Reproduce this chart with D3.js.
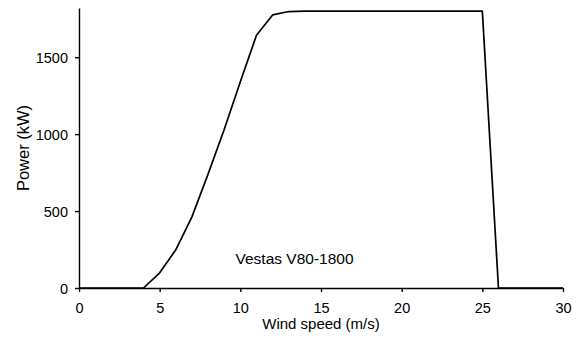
<!DOCTYPE html>
<html>
<head>
<meta charset="utf-8">
<script src="https://cdn.jsdelivr.net/npm/d3@7"></script>
<style>
  body { margin: 0; background: #fff; }
  svg text { font-family: "Liberation Sans", Arial, sans-serif; fill: #000; }
  .axis path, .axis line { stroke: #000; stroke-width: 1.4; }
</style>
</head>
<body>
<div id="chart"></div>
<script>
// wind speed (m/s) and power output (kW) of the turbine
const windSpeed = [0, 1, 2, 3, 4, 5, 6, 7, 8, 9, 10, 11, 12, 13, 14, 15, 16, 17, 18, 19, 20, 21, 22, 23, 24, 25, 26, 27, 28, 29, 30];
const power = [0, 0, 0, 0, 0, 99, 248, 462, 740, 1030, 1340, 1643, 1775, 1797, 1800, 1800, 1800, 1800, 1800, 1800, 1800, 1800, 1800, 1800, 1800, 1800, 0, 0, 0, 0, 0];
const xTicks = [0, 5, 10, 15, 20, 25, 30];
const yTicks = [0, 500, 1000, 1500];
const label = "Vestas V80-1800";

const W = 579, H = 340;
const margin = { top: 8, right: 16, bottom: 52, left: 79 };

const svg = d3.select("#chart")
  .append("svg")
  .attr("width", W)
  .attr("height", H);

const x = d3.scaleLinear()
  .domain([0, 30])
  .range([margin.left, W - margin.right]);

const y = d3.scaleLinear()
  .domain([0, 1820])
  .range([H - margin.bottom, margin.top]);

const xAxis = svg.append("g")
  .attr("class", "axis")
  .attr("transform", "translate(0," + y(0) + ")")
  .call(d3.axisBottom(x).tickValues(xTicks).tickFormat(d3.format("d"))
    .tickSize(4).tickSizeOuter(0).tickPadding(11));
xAxis.selectAll("text").style("font-size", "14.5px");

const yAxis = svg.append("g")
  .attr("class", "axis")
  .attr("transform", "translate(" + x(0) + ",0)")
  .call(d3.axisLeft(y).tickValues(yTicks).tickFormat(d3.format("d"))
    .tickSize(4).tickSizeOuter(0).tickPadding(7));
yAxis.selectAll("text").style("font-size", "14.5px").attr("dy", "0.36em");

const line = d3.line()
  .x((d, i) => x(windSpeed[i]))
  .y(d => y(d));

svg.append("path")
  .datum(power)
  .attr("fill", "none")
  .attr("stroke", "#000")
  .attr("stroke-width", 1.7)
  .attr("stroke-linejoin", "round")
  .attr("d", line);

svg.append("text")
  .attr("x", x(9.7))
  .attr("y", 263.5)
  .style("font-size", "15.5px")
  .text(label);

svg.append("text")
  .attr("x", x(15))
  .attr("y", 328.5)
  .attr("text-anchor", "middle")
  .style("font-size", "15px")
  .text("Wind speed (m/s)");

svg.append("text")
  .attr("transform", "translate(28.5,148) rotate(-90)")
  .attr("text-anchor", "middle")
  .style("font-size", "16.5px")
  .text("Power (kW)");
</script>
</body>
</html>
